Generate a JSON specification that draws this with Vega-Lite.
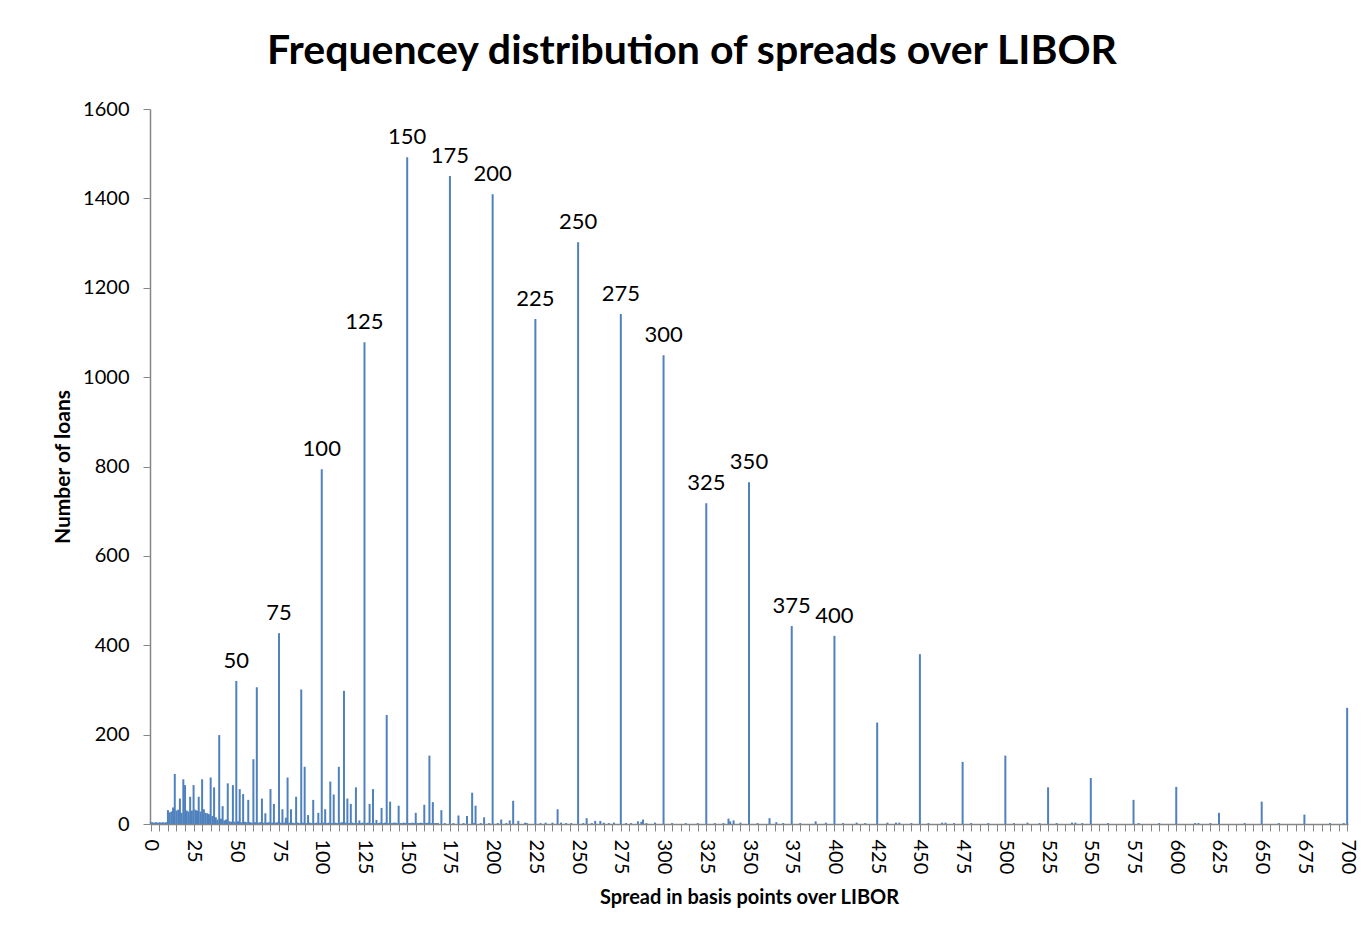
{
  "$schema": "https://vega.github.io/schema/vega-lite/v6.json",
  "width": 1198,
  "height": 715,
  "autosize": {"type": "none"},
  "padding": {"left": 150, "top": 109, "right": 16, "bottom": 119},
  "background": "white",
  "title": {
    "text": "Frequencey distribution of spreads over LIBOR",
    "font": "Lato",
    "fontSize": 41,
    "fontWeight": "bold",
    "color": "#000000",
    "anchor": "middle",
    "offset": 26,
    "dx": -57
  },
  "data": {
    "values": [
      {"spread": 0, "loans": 4}, {"spread": 1, "loans": 4}, {"spread": 2, "loans": 3}, {"spread": 3, "loans": 4}, {"spread": 4, "loans": 3},
      {"spread": 5, "loans": 4}, {"spread": 6, "loans": 3}, {"spread": 7, "loans": 4}, {"spread": 8, "loans": 3}, {"spread": 9, "loans": 4},
      {"spread": 10, "loans": 31}, {"spread": 11, "loans": 26}, {"spread": 12, "loans": 28}, {"spread": 13, "loans": 37}, {"spread": 14, "loans": 112},
      {"spread": 15, "loans": 30}, {"spread": 16, "loans": 32}, {"spread": 17, "loans": 57}, {"spread": 18, "loans": 25}, {"spread": 19, "loans": 100},
      {"spread": 20, "loans": 87}, {"spread": 21, "loans": 30}, {"spread": 22, "loans": 28}, {"spread": 23, "loans": 61}, {"spread": 24, "loans": 30},
      {"spread": 25, "loans": 87}, {"spread": 26, "loans": 32}, {"spread": 27, "loans": 30}, {"spread": 28, "loans": 61}, {"spread": 29, "loans": 28},
      {"spread": 30, "loans": 100}, {"spread": 31, "loans": 33}, {"spread": 32, "loans": 25}, {"spread": 33, "loans": 24}, {"spread": 34, "loans": 22},
      {"spread": 35, "loans": 104}, {"spread": 36, "loans": 18}, {"spread": 37, "loans": 82}, {"spread": 38, "loans": 15}, {"spread": 39, "loans": 10},
      {"spread": 40, "loans": 199}, {"spread": 41, "loans": 12}, {"spread": 42, "loans": 40}, {"spread": 43, "loans": 8}, {"spread": 44, "loans": 10},
      {"spread": 45, "loans": 91}, {"spread": 46, "loans": 6}, {"spread": 47, "loans": 5}, {"spread": 48, "loans": 87}, {"spread": 49, "loans": 5},
      {"spread": 50, "loans": 320}, {"spread": 51, "loans": 6}, {"spread": 52, "loans": 78}, {"spread": 53, "loans": 4}, {"spread": 54, "loans": 67},
      {"spread": 55, "loans": 5}, {"spread": 56, "loans": 4}, {"spread": 57, "loans": 54}, {"spread": 58, "loans": 4}, {"spread": 59, "loans": 3},
      {"spread": 60, "loans": 145}, {"spread": 61, "loans": 4}, {"spread": 62, "loans": 306}, {"spread": 63, "loans": 3}, {"spread": 64, "loans": 4},
      {"spread": 65, "loans": 57}, {"spread": 66, "loans": 3}, {"spread": 67, "loans": 24}, {"spread": 68, "loans": 3}, {"spread": 69, "loans": 4},
      {"spread": 70, "loans": 78}, {"spread": 71, "loans": 3}, {"spread": 72, "loans": 45}, {"spread": 73, "loans": 3}, {"spread": 74, "loans": 4},
      {"spread": 75, "loans": 427}, {"spread": 76, "loans": 3}, {"spread": 77, "loans": 33}, {"spread": 78, "loans": 3}, {"spread": 79, "loans": 14},
      {"spread": 80, "loans": 104}, {"spread": 81, "loans": 3}, {"spread": 82, "loans": 33}, {"spread": 83, "loans": 3}, {"spread": 84, "loans": 2},
      {"spread": 85, "loans": 61}, {"spread": 86, "loans": 3}, {"spread": 87, "loans": 2}, {"spread": 88, "loans": 301}, {"spread": 89, "loans": 3},
      {"spread": 90, "loans": 128}, {"spread": 91, "loans": 2}, {"spread": 92, "loans": 20}, {"spread": 93, "loans": 3}, {"spread": 94, "loans": 2},
      {"spread": 95, "loans": 54}, {"spread": 96, "loans": 2}, {"spread": 97, "loans": 3}, {"spread": 98, "loans": 25}, {"spread": 99, "loans": 2},
      {"spread": 100, "loans": 794}, {"spread": 101, "loans": 3}, {"spread": 102, "loans": 33}, {"spread": 103, "loans": 2}, {"spread": 104, "loans": 3},
      {"spread": 105, "loans": 95}, {"spread": 106, "loans": 2}, {"spread": 107, "loans": 66}, {"spread": 108, "loans": 3}, {"spread": 109, "loans": 2},
      {"spread": 110, "loans": 128}, {"spread": 111, "loans": 3}, {"spread": 112, "loans": 4}, {"spread": 113, "loans": 298}, {"spread": 114, "loans": 3},
      {"spread": 115, "loans": 57}, {"spread": 116, "loans": 2}, {"spread": 117, "loans": 45}, {"spread": 118, "loans": 3}, {"spread": 119, "loans": 2},
      {"spread": 120, "loans": 82}, {"spread": 121, "loans": 2}, {"spread": 122, "loans": 8}, {"spread": 123, "loans": 2}, {"spread": 124, "loans": 3},
      {"spread": 125, "loans": 1078}, {"spread": 126, "loans": 2}, {"spread": 127, "loans": 3}, {"spread": 128, "loans": 45}, {"spread": 129, "loans": 2},
      {"spread": 130, "loans": 78}, {"spread": 131, "loans": 2}, {"spread": 132, "loans": 9}, {"spread": 133, "loans": 2}, {"spread": 134, "loans": 3},
      {"spread": 135, "loans": 36}, {"spread": 136, "loans": 2}, {"spread": 137, "loans": 3}, {"spread": 138, "loans": 244}, {"spread": 139, "loans": 2},
      {"spread": 140, "loans": 50}, {"spread": 141, "loans": 2}, {"spread": 142, "loans": 3}, {"spread": 143, "loans": 3}, {"spread": 144, "loans": 2},
      {"spread": 145, "loans": 41}, {"spread": 146, "loans": 2}, {"spread": 147, "loans": 2}, {"spread": 148, "loans": 3}, {"spread": 149, "loans": 2},
      {"spread": 150, "loans": 1492}, {"spread": 151, "loans": 2}, {"spread": 152, "loans": 2}, {"spread": 153, "loans": 3}, {"spread": 154, "loans": 2},
      {"spread": 155, "loans": 25}, {"spread": 156, "loans": 2}, {"spread": 157, "loans": 2}, {"spread": 158, "loans": 3}, {"spread": 159, "loans": 2},
      {"spread": 160, "loans": 43}, {"spread": 161, "loans": 2}, {"spread": 162, "loans": 3}, {"spread": 163, "loans": 153}, {"spread": 164, "loans": 2},
      {"spread": 165, "loans": 49}, {"spread": 166, "loans": 2}, {"spread": 167, "loans": 2}, {"spread": 168, "loans": 2}, {"spread": 170, "loans": 31},
      {"spread": 172, "loans": 2}, {"spread": 175, "loans": 1450}, {"spread": 177, "loans": 2}, {"spread": 180, "loans": 19}, {"spread": 183, "loans": 2},
      {"spread": 185, "loans": 18}, {"spread": 188, "loans": 70}, {"spread": 189, "loans": 2}, {"spread": 190, "loans": 41}, {"spread": 193, "loans": 2},
      {"spread": 195, "loans": 15}, {"spread": 198, "loans": 2}, {"spread": 200, "loans": 1409}, {"spread": 203, "loans": 2}, {"spread": 205, "loans": 10},
      {"spread": 208, "loans": 2}, {"spread": 210, "loans": 8}, {"spread": 212, "loans": 52}, {"spread": 215, "loans": 7}, {"spread": 219, "loans": 3},
      {"spread": 220, "loans": 2}, {"spread": 225, "loans": 1130}, {"spread": 228, "loans": 2}, {"spread": 231, "loans": 3}, {"spread": 235, "loans": 3},
      {"spread": 238, "loans": 33}, {"spread": 240, "loans": 3}, {"spread": 243, "loans": 2}, {"spread": 246, "loans": 2}, {"spread": 250, "loans": 1302},
      {"spread": 253, "loans": 2}, {"spread": 255, "loans": 13}, {"spread": 258, "loans": 2}, {"spread": 260, "loans": 7}, {"spread": 263, "loans": 7},
      {"spread": 265, "loans": 3}, {"spread": 268, "loans": 2}, {"spread": 271, "loans": 3}, {"spread": 275, "loans": 1141}, {"spread": 278, "loans": 2},
      {"spread": 281, "loans": 2}, {"spread": 285, "loans": 6}, {"spread": 287, "loans": 5}, {"spread": 288, "loans": 10}, {"spread": 290, "loans": 2},
      {"spread": 295, "loans": 3}, {"spread": 300, "loans": 1049}, {"spread": 305, "loans": 2}, {"spread": 313, "loans": 2}, {"spread": 320, "loans": 2},
      {"spread": 325, "loans": 718}, {"spread": 330, "loans": 2}, {"spread": 335, "loans": 2}, {"spread": 338, "loans": 12}, {"spread": 339, "loans": 6},
      {"spread": 341, "loans": 8}, {"spread": 345, "loans": 3}, {"spread": 350, "loans": 765}, {"spread": 355, "loans": 2}, {"spread": 362, "loans": 13},
      {"spread": 366, "loans": 4}, {"spread": 370, "loans": 2}, {"spread": 375, "loans": 443}, {"spread": 380, "loans": 2}, {"spread": 389, "loans": 6},
      {"spread": 395, "loans": 3}, {"spread": 400, "loans": 421}, {"spread": 405, "loans": 2}, {"spread": 413, "loans": 3}, {"spread": 418, "loans": 2},
      {"spread": 425, "loans": 227}, {"spread": 431, "loans": 3}, {"spread": 436, "loans": 3}, {"spread": 438, "loans": 3}, {"spread": 445, "loans": 2},
      {"spread": 450, "loans": 380}, {"spread": 455, "loans": 2}, {"spread": 463, "loans": 3}, {"spread": 465, "loans": 3}, {"spread": 470, "loans": 2},
      {"spread": 475, "loans": 139}, {"spread": 480, "loans": 2}, {"spread": 490, "loans": 2}, {"spread": 500, "loans": 153}, {"spread": 505, "loans": 2},
      {"spread": 513, "loans": 3}, {"spread": 520, "loans": 2}, {"spread": 525, "loans": 82}, {"spread": 530, "loans": 2}, {"spread": 539, "loans": 3},
      {"spread": 541, "loans": 3}, {"spread": 545, "loans": 2}, {"spread": 550, "loans": 103}, {"spread": 560, "loans": 2}, {"spread": 575, "loans": 54},
      {"spread": 578, "loans": 2}, {"spread": 590, "loans": 2}, {"spread": 600, "loans": 83}, {"spread": 611, "loans": 2}, {"spread": 613, "loans": 2},
      {"spread": 620, "loans": 2}, {"spread": 625, "loans": 25}, {"spread": 640, "loans": 2}, {"spread": 650, "loans": 50}, {"spread": 660, "loans": 2},
      {"spread": 675, "loans": 21}, {"spread": 690, "loans": 2}, {"spread": 698, "loans": 2}, {"spread": 700, "loans": 260}
    ]
  },
  "encoding": {
    "x": {
      "field": "spread",
      "type": "quantitative",
      "scale": {"domain": [-0.5, 700.5], "nice": false, "zero": false, "padding": 0},
      "axis": {
        "title": "Spread in basis points over LIBOR",
        "titleFont": "Lato",
        "titleFontSize": 20,
        "titleFontWeight": "bold",
        "titleColor": "#000000",
        "titlePadding": 14,
        "tickCount": 140,
        "labelExpr": "datum.value % 25 == 0 ? datum.label : ''",
        "labelAngle": 90,
        "labelFont": "Lato",
        "labelFontSize": 20,
        "labelColor": "#000000",
        "labelPadding": 8,
        "labelOverlap": false,
        "labelFlush": false,
        "tickSize": 7,
        "tickColor": "#868686",
        "domainColor": "#868686",
        "domainWidth": 1.5,
        "grid": false
      }
    },
    "y": {
      "field": "loans",
      "type": "quantitative",
      "scale": {"domain": [0, 1600], "nice": false},
      "axis": {
        "title": "Number of loans",
        "titleFont": "Lato",
        "titleFontSize": 21,
        "titleFontWeight": "bold",
        "titleColor": "#000000",
        "titlePadding": 9,
        "values": [0, 200, 400, 600, 800, 1000, 1200, 1400, 1600],
        "format": "d",
        "labelFont": "Lato",
        "labelFontSize": 20,
        "labelColor": "#000000",
        "labelPadding": 14,
        "tickSize": 7,
        "tickColor": "#868686",
        "domainColor": "#868686",
        "domainWidth": 1.5,
        "grid": false
      }
    }
  },
  "layer": [
    {
      "mark": {"type": "bar", "color": "#4F81BD", "size": 2}
    },
    {
      "transform": [{"filter": "datum.spread % 25 == 0 && datum.spread >= 50 && datum.spread <= 400"}],
      "mark": {"type": "text", "font": "Lato", "fontSize": 22, "color": "#000000", "baseline": "bottom", "dy": -8},
      "encoding": {
        "text": {"field": "spread", "type": "quantitative"}
      }
    }
  ],
  "config": {
    "view": {"stroke": null}
  }
}
